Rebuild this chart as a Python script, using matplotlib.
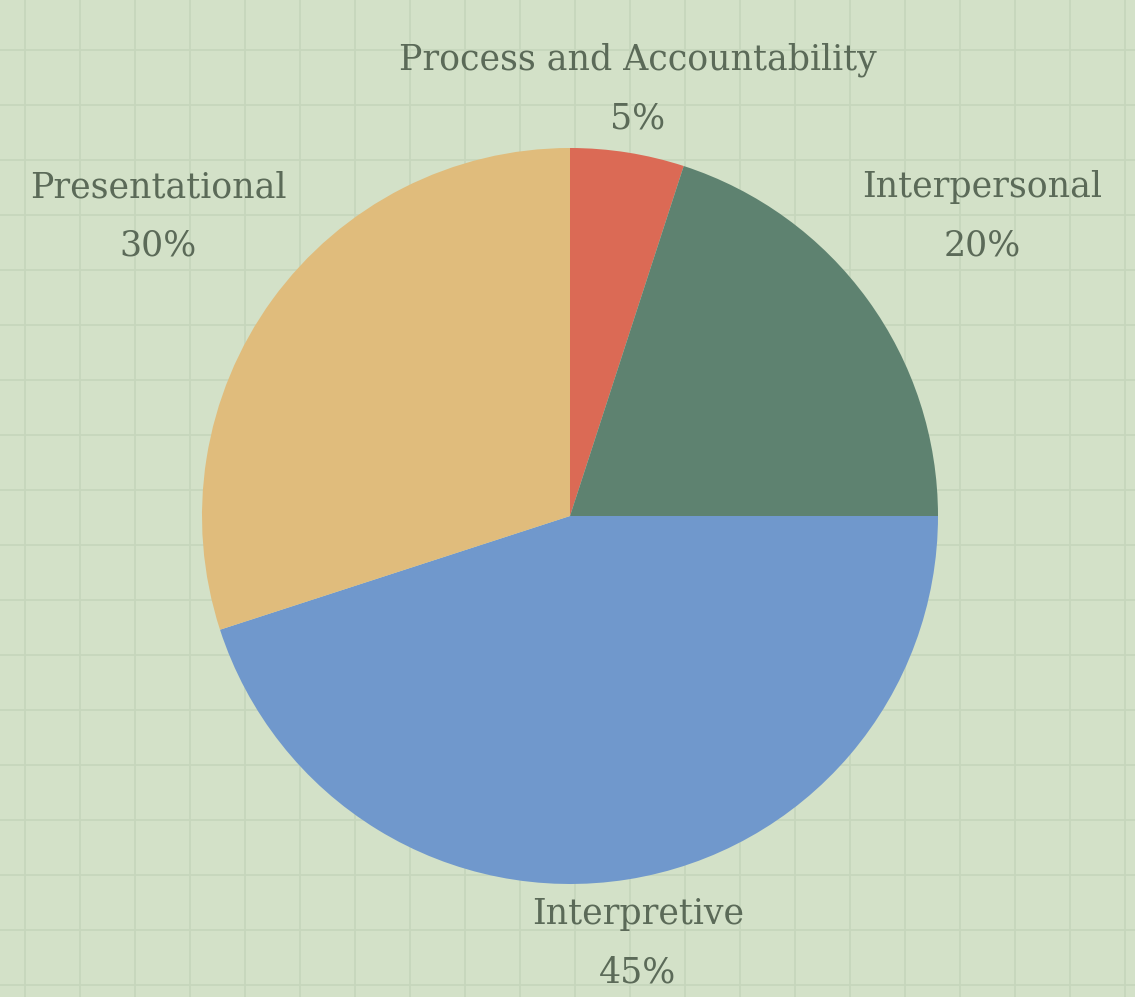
import matplotlib.pyplot as plt
import numpy as np

# slice data, clockwise from 12 o'clock
labels = ["Process and Accountability", "Interpersonal", "Interpretive", "Presentational"]
shares = [5, 20, 45, 30]
colors = ["#db6a55", "#5e8270", "#7098cc", "#e0bc7c"]

W, H = 1135, 997
bg = "#d3e1c8"
grid_col = "#c6d6bc"
text_col = "#5b6a58"

fig = plt.figure(figsize=(W / 100, H / 100), dpi=100, facecolor=bg)

# graph paper background in pixel coordinates
bg_ax = fig.add_axes([0, 0, 1, 1])
bg_ax.set_xlim(0, W)
bg_ax.set_ylim(H, 0)
bg_ax.set_facecolor(bg)
for gx in np.arange(25, W, 55):
    bg_ax.axvline(gx, color=grid_col, lw=1.3)
for gy in np.arange(50, H, 55):
    bg_ax.axhline(gy, color=grid_col, lw=1.3)
bg_ax.axis("off")

# pie axes, radius 1 == 368 px, centre at (570, 516) px
R, cx, cy = 368, 570, 516
ax = fig.add_axes([0, 0, 1, 1])
wedges, _ = ax.pie(shares, colors=colors, startangle=90, counterclock=False,
                   radius=1.0, wedgeprops=dict(linewidth=0))
# pie() resets the limits, so set them afterwards
ax.set_xlim(-cx / R, (W - cx) / R)
ax.set_ylim(-(H - cy) / R, cy / R)
ax.set_aspect("equal")
ax.axis("off")

for w, name, pct in zip(wedges, labels, shares):
    theta = np.deg2rad((w.theta1 + w.theta2) / 2)
    dist = 1.125 + 0.32 * abs(np.cos(theta))
    x, y = dist * np.cos(theta), dist * np.sin(theta)
    ax.annotate(name, (x, y), xytext=(0, 21), textcoords="offset points",
                ha="center", va="center", fontsize=25, family="DejaVu Serif",
                color=text_col)
    ax.annotate(f"{pct}%", (x, y), xytext=(0, -21), textcoords="offset points",
                ha="center", va="center", fontsize=25, family="DejaVu Serif",
                color=text_col)

fig.savefig("out.png", dpi=100, facecolor=bg)
